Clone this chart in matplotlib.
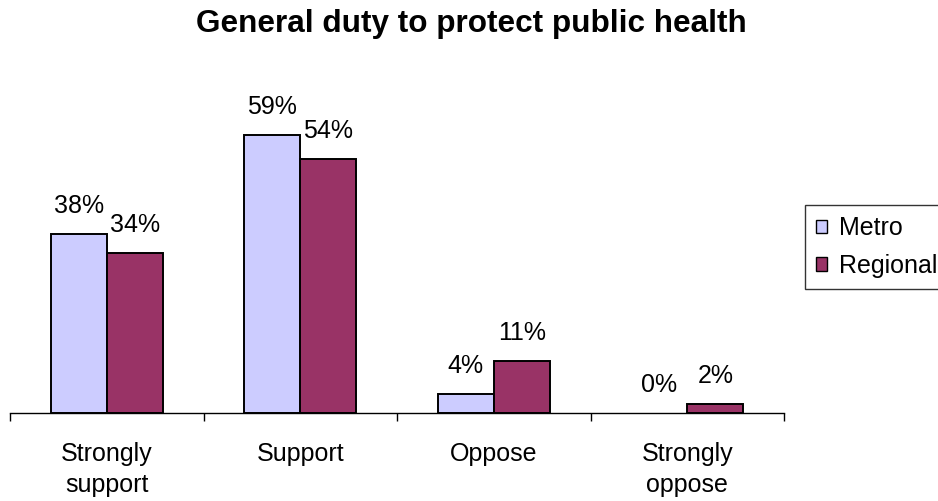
import numpy as np
import matplotlib.pyplot as plt
from matplotlib.patches import Patch

categories = ["Strongly\nsupport", "Support", "Oppose", "Strongly\noppose"]
metro = [38, 59, 4, 0]
regional = [34, 54, 11, 2]
series_names = ["Metro", "Regional"]
colors = ["#CCCCFF", "#993366"]

plt.rcParams['font.family'] = ['Liberation Sans', 'DejaVu Sans']

fig = plt.figure(figsize=(9.38, 5.01), dpi=100)
ax = fig.add_axes([0.0107, 0.1756, 0.8252, 0.658])

x = np.arange(len(categories))
w = 0.29
for vals, off, c in [(metro, -w / 2, colors[0]), (regional, w / 2, colors[1])]:
    bars = ax.bar(x + off, vals, width=w, color=c, edgecolor="black", linewidth=1.4)
    for b, v in zip(bars, vals):
        if v == 0:
            b.set_linewidth(0)
        ax.annotate(f"{v}%", (b.get_x() + b.get_width() / 2, v),
                    xytext=(0, 15), textcoords="offset points",
                    ha="center", va="baseline", fontsize=18)

ax.set_xlim(-0.5, len(categories) - 0.5)
ax.set_ylim(0, 70)
for s in ["top", "right", "left"]:
    ax.spines[s].set_visible(False)
ax.spines["bottom"].set_linewidth(1.0)
ax.set_yticks([])
ax.set_xticks(x)
ax.set_xticklabels(categories, fontsize=18, linespacing=1.35)
ax.tick_params(axis="x", which="major", length=0, pad=21)
ax.set_xticks(np.arange(len(categories) + 1) - 0.5, minor=True)
ax.tick_params(axis="x", which="minor", length=6, width=1.0, direction="out")

fig.text(0.502, 0.936, "General duty to protect public health", ha="center",
         va="baseline", fontsize=22.7, fontweight="bold")

handles = [Patch(facecolor=c, edgecolor="black", linewidth=1.0) for c in colors]
leg = fig.legend(handles, series_names, loc="upper left",
                 bbox_to_anchor=(0.858, 0.591), fontsize=18, frameon=True,
                 fancybox=False, edgecolor="black", handlelength=0.45,
                 handleheight=0.45, handletextpad=0.45, borderpad=0.45,
                 labelspacing=0.55, borderaxespad=0)
leg.get_frame().set_linewidth(1.0)

fig.savefig("out.png", dpi=100)
